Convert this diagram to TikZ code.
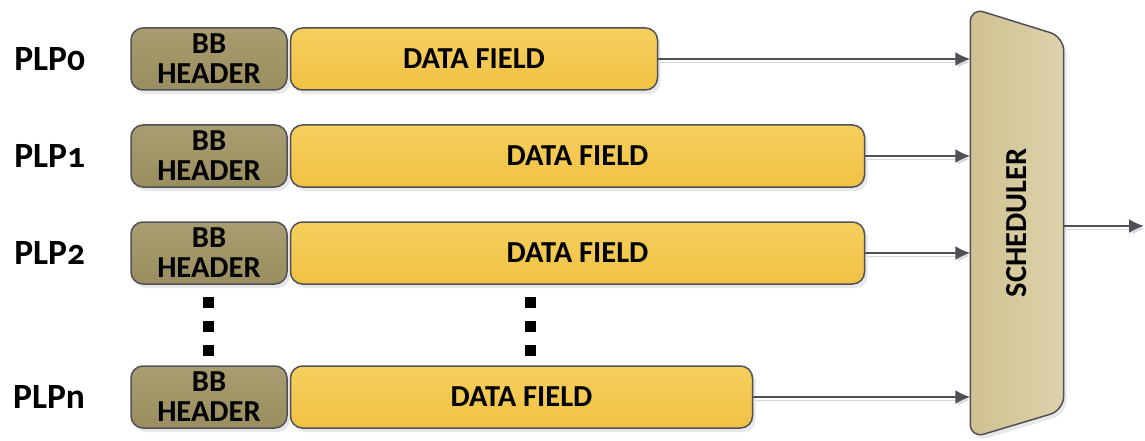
\documentclass[tikz,border=0pt]{standalone}
\usepackage{fontspec}
\setmainfont{Carlito}[Numbers=OldStyle]
\usepackage{tikz}
\usetikzlibrary{positioning,calc,shadows,arrows.meta}

\definecolor{hdrtop}{HTML}{A89D70}
\definecolor{hdrbot}{HTML}{9A8E60}
\definecolor{fldtop}{HTML}{F6CF5E}
\definecolor{fldbot}{HTML}{F0C244}
\definecolor{schtop}{HTML}{DDD2AB}
\definecolor{schbot}{HTML}{CFC191}
\definecolor{edgecol}{HTML}{505058}

\tikzset{
  boxtext/.style={font=\fontsize{30.5}{30}\selectfont\bfseries},
  hdr/.style={boxtext, draw=edgecol, line width=1.5pt, rounded corners=12pt,
    top color=hdrtop, bottom color=hdrbot, align=center, inner sep=0pt,
    minimum width=156pt, minimum height=62pt,
    drop shadow={shadow xshift=3pt, shadow yshift=-4pt, opacity=0.18}},
  fld/.style={boxtext, draw=edgecol, line width=1.5pt, rounded corners=12pt,
    top color=fldtop, bottom color=fldbot, inner sep=0pt, minimum height=62pt,
    drop shadow={shadow xshift=3pt, shadow yshift=-4pt, opacity=0.18}},
  plp/.style={font=\fontsize{35.5}{35}\selectfont\bfseries, inner sep=0pt},
  link/.style={draw=edgecol, line width=2pt, -{Latex[length=15pt,width=14pt]},
    preaction={draw=black!15, transform canvas={shift={(2pt,-3pt)}}}}
}

\begin{document}
\begin{tikzpicture}[x=1pt, y=-1pt]

\useasboundingbox (0,0) rectangle (1145,441);

% --- the four PLP rows ---
\node[hdr] (h0) at (209,59) {BB\\HEADER};
\node[fld, minimum width=367pt, right=2pt of h0] (d0) {DATA FIELD};
\node[plp, left=45pt of h0] (l0) {PLP0};

\node[hdr] (h1) at (209,156) {BB\\HEADER};
\node[fld, minimum width=574pt, right=2pt of h1] (d1) {DATA FIELD};
\node[plp, left=45pt of h1] (l1) {PLP1};

\node[hdr] (h2) at (209,253) {BB\\HEADER};
\node[fld, minimum width=574pt, right=2pt of h2] (d2) {DATA FIELD};
\node[plp, left=45pt of h2] (l2) {PLP2};

\node[hdr] (hn) at (209,397) {BB\\HEADER};
\node[fld, minimum width=462pt, right=2pt of hn] (dn) {DATA FIELD};
\node[plp, left=45pt of hn] (ln) {PLPn};

% vertical dots
\foreach \y in {302,326,350} {
  \fill (202.5,\y-5.5) rectangle ++(11,11);
  \fill (525,\y-5.5) rectangle ++(11,11);
}

% --- scheduler ---
\node[minimum width=93pt, minimum height=430pt, inner sep=0pt] (sched) at (1017,223) {};
\draw[draw=edgecol, line width=1.5pt, rounded corners=14pt,
      left color=schbot, right color=schtop,
      drop shadow={shadow xshift=3pt, shadow yshift=-4pt, opacity=0.18}]
  (sched.north west) -- ([yshift=-29pt]sched.north east)
  -- ([yshift=28pt]sched.south east) -- (sched.south west) -- cycle;
\node[boxtext, rotate=90] (schedlbl) at (sched.center) {SCHEDULER};

% arrows into and out of the scheduler
\foreach \r in {0,1,2,n} {
  \draw[link] (d\r.east) -- (d\r.east -| sched.west);
}
\coordinate (out) at (1144,226);
\draw[link] (sched.east |- out) -- (out);

\end{tikzpicture}
\end{document}
